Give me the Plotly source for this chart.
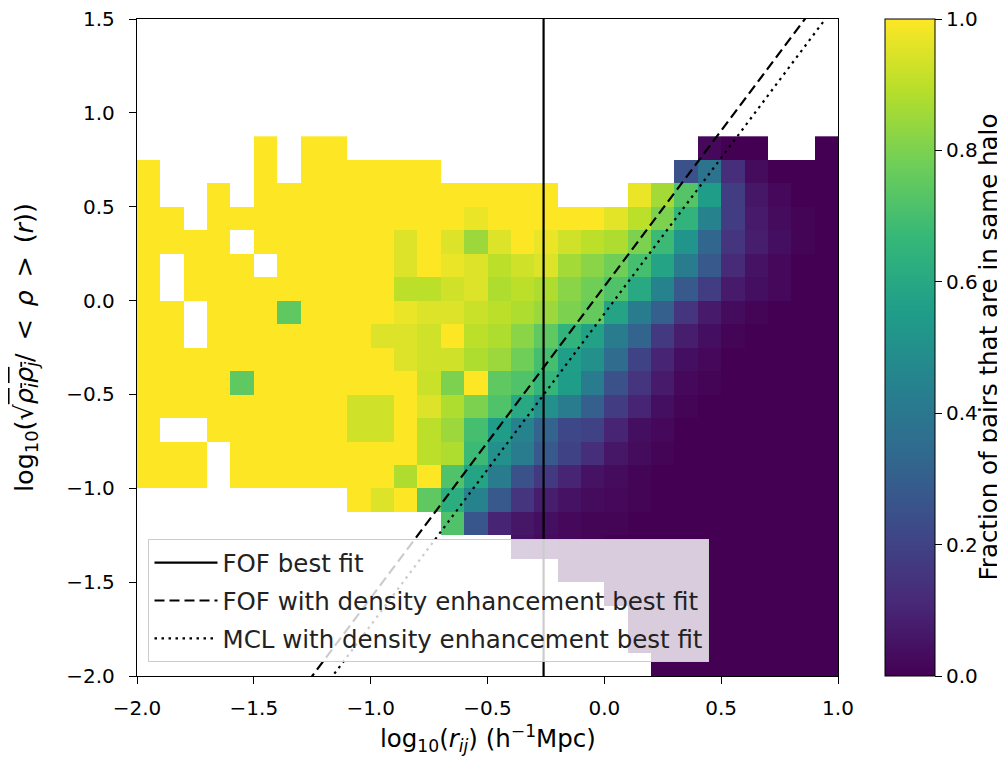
import plotly.graph_objects as go

N = None

# histogram bins (data units)
x_bin_lo, x_bin_w, n_x = -2.0, 0.1, 30
y_bin_top, y_bin_h, n_y = 0.875, 0.125, 23

# fraction of pairs in same halo; rows listed from top (0.75..0.875) to bottom (-2..-1.875)
frac_rows = [
    [N, N, N, N, N, 1, N, 1, 1, N, N, N, N, N, N, N, N, N, N, N, N, N, N, N, 0.02, 0.0, 0.0, N, N, 0.0],
    [1, N, N, N, N, 1, N, 1, 1, 1, 1, 1, 1, N, N, N, N, N, N, N, N, N, N, 0.25, 0.38, 0.13, 0.03, 0.0, 0.0, 0.0],
    [1, N, N, 1, N, 1, 1, 1, 1, 1, 1, 1, 1, 1, 1, 1, 1, 1, N, N, N, 0.97, 0.86, 0.73, 0.55, 0.18, 0.06, 0.02, 0.0, 0.0],
    [1, 1, N, 1, 1, 1, 1, 1, 1, 1, 1, 1, 1, 1, 0.97, 1, 1, 1, 1, 1, 0.96, 0.9, 0.8, 0.65, 0.45, 0.18, 0.07, 0.03, 0.01, 0.0],
    [1, 1, 1, 1, N, 1, 1, 1, 1, 1, 1, 0.95, 1, 0.95, 0.85, 0.95, 1, 0.97, 0.93, 0.9, 0.88, 0.8, 0.68, 0.52, 0.33, 0.15, 0.08, 0.04, 0.01, 0.0],
    [1, N, 1, 1, 1, N, 1, 1, 1, 1, 1, 0.95, 1, 0.97, 0.95, 0.9, 0.93, 0.95, 0.86, 0.82, 0.78, 0.7, 0.58, 0.42, 0.28, 0.12, 0.05, 0.02, 0.0, 0.0],
    [1, N, 1, 1, 1, 1, 1, 1, 1, 1, 1, 0.9, 0.9, 0.93, 0.95, 0.88, 0.9, 0.88, 0.82, 0.78, 0.72, 0.6, 0.45, 0.28, 0.18, 0.07, 0.04, 0.02, 0.0, 0.0],
    [1, 1, N, 1, 1, 1, 0.75, 1, 1, 1, 1, 0.97, 0.95, 0.95, 0.92, 0.9, 0.88, 0.85, 0.8, 0.76, 0.58, 0.42, 0.3, 0.15, 0.07, 0.03, 0.01, 0.0, 0.0, 0.0],
    [1, 1, N, 1, 1, 1, 1, 1, 1, 1, 0.95, 0.95, 0.93, 1, 0.9, 0.88, 0.82, 0.75, 0.65, 0.57, 0.42, 0.32, 0.17, 0.08, 0.04, 0.01, 0.0, 0.0, 0.0, 0.0],
    [1, 1, 1, 1, 1, 1, 1, 1, 1, 1, 1, 0.95, 0.93, 0.93, 0.88, 0.85, 0.78, 0.7, 0.56, 0.5, 0.35, 0.2, 0.1, 0.04, 0.02, 0.0, 0.0, 0.0, 0.0, 0.0],
    [1, 1, 1, 1, 0.75, 1, 1, 1, 1, 1, 1, 1, 0.92, 0.8, 1, 0.75, 0.72, 0.66, 0.55, 0.42, 0.25, 0.15, 0.07, 0.02, 0.01, 0.0, 0.0, 0.0, 0.0, 0.0],
    [1, 1, 1, 1, 1, 1, 1, 1, 1, 0.93, 0.93, 1, 0.95, 0.88, 0.8, 0.72, 0.6, 0.5, 0.42, 0.3, 0.18, 0.1, 0.04, 0.01, 0.0, 0.0, 0.0, 0.0, 0.0, 0.0],
    [1, N, N, 1, 1, 1, 1, 1, 1, 0.93, 0.93, 1, 0.9, 0.85, 0.7, 0.55, 0.45, 0.32, 0.22, 0.2, 0.1, 0.04, 0.02, 0.0, 0.0, 0.0, 0.0, 0.0, 0.0, 0.0],
    [1, 1, 1, N, 1, 1, 1, 1, 1, 1, 1, 1, 0.9, 0.88, 0.68, 0.5, 0.42, 0.28, 0.2, 0.13, 0.06, 0.03, 0.01, 0.0, 0.0, 0.0, 0.0, 0.0, 0.0, 0.0],
    [1, 1, 1, N, 1, 1, 1, 1, 1, 1, 1, 0.88, 1, 0.72, 0.58, 0.42, 0.25, 0.17, 0.1, 0.05, 0.03, 0.01, 0.0, 0.0, 0.0, 0.0, 0.0, 0.0, 0.0, 0.0],
    [N, N, N, N, N, N, N, N, N, 1, 0.95, 1, 0.75, 0.62, 0.45, 0.28, 0.15, 0.08, 0.05, 0.03, 0.02, 0.01, 0.0, 0.0, 0.0, 0.0, 0.0, 0.0, 0.0, 0.0],
    [N, N, N, N, N, N, N, N, N, N, N, N, N, 0.72, 0.27, 0.1, 0.06, 0.04, 0.02, 0.01, 0.01, 0.0, 0.0, 0.0, 0.0, 0.0, 0.0, 0.0, 0.0, 0.0],
    [N, N, N, N, N, N, N, N, N, N, N, N, N, N, N, N, 0.05, 0.03, 0.02, 0.01, 0.0, 0.0, 0.0, 0.0, 0.0, 0.0, 0.0, 0.0, 0.0, 0.0],
    [N, N, N, N, N, N, N, N, N, N, N, N, N, N, N, N, N, N, 0.01, 0.01, 0.0, 0.0, 0.0, 0.0, 0.0, 0.0, 0.0, 0.0, 0.0, 0.0],
    [N, N, N, N, N, N, N, N, N, N, N, N, N, N, N, N, N, N, N, N, 0.0, 0.0, 0.0, 0.0, 0.0, 0.0, 0.0, 0.0, 0.0, 0.0],
    [N, N, N, N, N, N, N, N, N, N, N, N, N, N, N, N, N, N, N, N, N, 0.0, 0.0, 0.0, 0.0, 0.0, 0.0, 0.0, 0.0, 0.0],
    [N, N, N, N, N, N, N, N, N, N, N, N, N, N, N, N, N, N, N, N, N, 0.0, 0.0, 0.0, 0.0, 0.0, 0.0, 0.0, 0.0, 0.0],
    [N, N, N, N, N, N, N, N, N, N, N, N, N, N, N, N, N, N, N, N, N, N, 0.0, 0.0, 0.0, 0.0, 0.0, 0.0, 0.0, 0.0],
]

# best-fit lines
fof_r = -0.26                 # FOF best fit (vertical)
dens_slope = 1.66             # density-enhancement fits
fof_dens_intercept = 0.075
mcl_dens_intercept = -0.07

legend_names = ["FOF best fit",
                "FOF with density enhancement best fit",
                "MCL with density enhancement best fit"]

x_title = "log<sub>10</sub>(<i>r<sub>ij</sub></i>) (h<sup>−1</sup>Mpc)"
y_title = ("log<sub>10</sub>(√<span style='text-decoration:overline'><i>ρ<sub>i</sub>ρ<sub>j</sub></i></span>"
           "/\u2002<\u2002<i>ρ</i>\u2002>\u2002(<i>r</i>))")
cb_title = "Fraction of pairs that are in same halo"

x_ticks = [-2.0, -1.5, -1.0, -0.5, 0.0, 0.5, 1.0]
y_ticks = [-2.0, -1.5, -1.0, -0.5, 0.0, 0.5, 1.0, 1.5]
cb_ticks = [0.0, 0.2, 0.4, 0.6, 0.8, 1.0]

# ---- build ----
x_centers = [round(x_bin_lo + x_bin_w * (i + 0.5), 4) for i in range(n_x)]
y_centers_top_down = [round(y_bin_top - y_bin_h * (k + 0.5), 4) for k in range(n_y)]
y_centers = y_centers_top_down[::-1]
z = frac_rows[::-1]

FONT = "DejaVu Sans"
TICK_SIZE = 20
LABEL_SIZE = 24.5

fig = go.Figure()
fig.add_trace(go.Heatmap(
    x=x_centers, y=y_centers, z=z,
    colorscale="Viridis", zmin=0, zmax=1, showscale=True, hoverongaps=False,
    colorbar=dict(
        x=1.067, xanchor="left", xpad=0, y=0.5, yanchor="middle",
        len=1.0, lenmode="fraction", ypad=0, thickness=50,
        outlinewidth=1, outlinecolor="black",
        tickvals=cb_ticks, tickformat=".1f", ticks="outside", ticklen=7,
        ticklabeloverflow="allow",
        tickcolor="black", tickfont=dict(family=FONT, size=TICK_SIZE, color="black"),
    ),
))

xl = [x_ticks[0], x_ticks[-1]]
fig.add_trace(go.Scatter(x=[fof_r, fof_r], y=[y_ticks[0], y_ticks[-1]], mode="lines",
                         line=dict(color="black", width=2.2), name=legend_names[0],
                         legendgroup="a"))
fig.add_trace(go.Scatter(x=xl, y=[dens_slope * v + fof_dens_intercept for v in xl], mode="lines",
                         line=dict(color="black", width=2.2, dash="10px,5px"), name=legend_names[1],
                         legendgroup="b"))
fig.add_trace(go.Scatter(x=xl, y=[dens_slope * v + mcl_dens_intercept for v in xl], mode="lines",
                         line=dict(color="black", width=2.2, dash="2.5px,4.5px"), name=legend_names[2],
                         legendgroup="c"))

axis_common = dict(showline=True, linecolor="black", linewidth=1.3, mirror=True,
                   ticks="outside", ticklen=7, tickcolor="black", tickwidth=1.3,
                   showgrid=False, zeroline=False, tickformat=".1f",
                   ticklabeloverflow="allow", automargin=False,
                   tickfont=dict(family=FONT, size=TICK_SIZE, color="black"))

# the page body adds an 8 px margin, so the figure is sized and placed to compensate
fig.update_layout(
    width=997, height=752,
    margin=dict(l=128.5, r=167, t=11, b=84, autoexpand=False),
    paper_bgcolor="white", plot_bgcolor="white",
    font=dict(family=FONT, size=TICK_SIZE, color="black"),
    xaxis=dict(range=[-2, 1], tickvals=x_ticks, ticklabelstandoff=7, **axis_common),
    yaxis=dict(range=[-2, 1.5], tickvals=y_ticks, ticklabelstandoff=10, **axis_common),
    showlegend=True,
    legend=dict(x=0.0164, y=0.021, xanchor="left", yanchor="bottom",
                bgcolor="rgba(255,255,255,0.8)", bordercolor="#cccccc", borderwidth=1,
                font=dict(family=FONT, size=LABEL_SIZE, color="#222222"),
                itemwidth=63, tracegroupgap=3),
    annotations=[
        dict(text=x_title, xref="paper", yref="paper", x=0.5, y=0, yshift=-62,
             xanchor="center", yanchor="middle", showarrow=False,
             font=dict(family=FONT, size=LABEL_SIZE, color="black")),
        dict(text=y_title, xref="paper", yref="paper", x=0, y=0.5, xshift=-111.5,
             xanchor="center", yanchor="middle", showarrow=False, textangle=-90,
             font=dict(family=FONT, size=25.5, color="black")),
        dict(text=cb_title, xref="paper", yref="paper", x=1, y=0.5, xshift=150,
             xanchor="center", yanchor="middle", showarrow=False, textangle=-90,
             font=dict(family=FONT, size=LABEL_SIZE, color="black")),
    ],
)

fig.write_html("out.html")
